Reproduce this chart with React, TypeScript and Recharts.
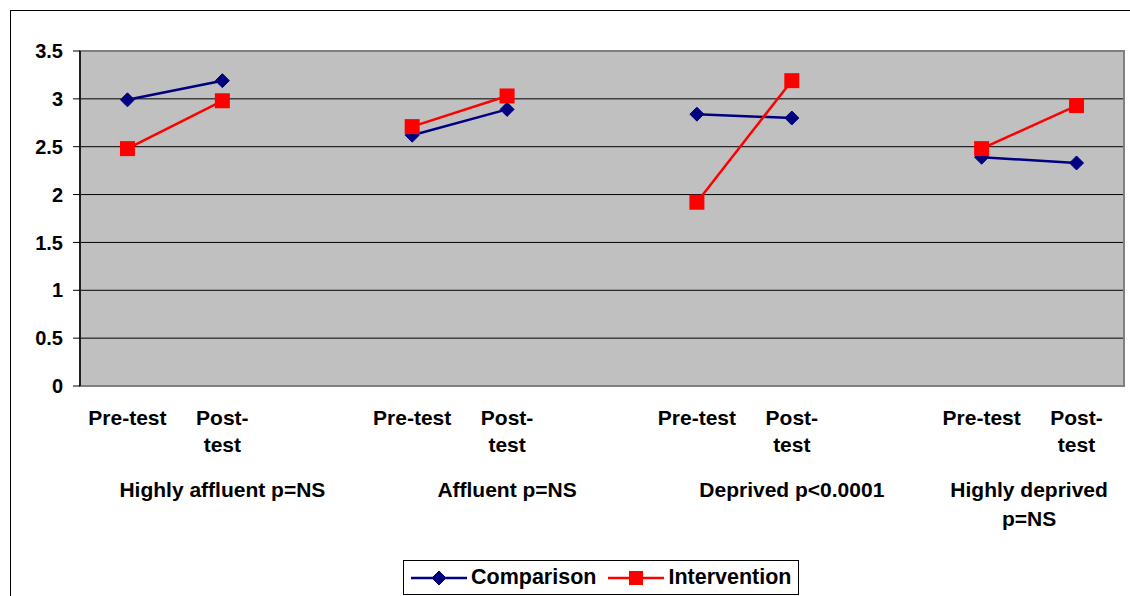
import React from 'react'
import { LineChart, Line, XAxis, YAxis, CartesianGrid, Legend, ReferenceArea } from 'recharts'

// categories: 4 groups of pre/post with a blank slot between groups
const categories = ['Pre-test', 'Post-\ntest', '', 'Pre-test', 'Post-\ntest', '', 'Pre-test', 'Post-\ntest', '', 'Pre-test', 'Post-\ntest']
const groupLabels = ['Highly affluent p=NS', 'Affluent p=NS', 'Deprived p<0.0001', 'Highly deprived\np=NS']
// category index where each group label is centred (x.5 = between two slots)
const groupCentres = [1, 4, 7, 9.5]

const comparison = [2.99, 3.19, null, 2.62, 2.89, null, 2.84, 2.8, null, 2.39, 2.33]
const intervention = [2.48, 2.98, null, 2.71, 3.03, null, 1.92, 3.19, null, 2.48, 2.93]
const yTicks = [0, 0.5, 1, 1.5, 2, 2.5, 3, 3.5]

const seriesNames = ['Comparison', 'Intervention']
const NAVY = '#000080'
const RED = '#FF0000'
const FONT = '"Liberation Sans", Arial, sans-serif'

const data = categories.map((c, i) => ({
  idx: i,
  comparison: comparison[i],
  intervention: intervention[i],
}))

const Diamond = ({ cx, cy, size = 7 }: any) => {
  if (cx == null || cy == null) return null
  return <path d={`M${cx},${cy - size} L${cx + size},${cy} L${cx},${cy + size} L${cx - size},${cy} Z`} fill={NAVY} stroke={NAVY} strokeWidth={1} />
}

const Square = ({ cx, cy, size = 7.5 }: any) => {
  if (cx == null || cy == null) return null
  return <rect x={cx - size} y={cy - size} width={size * 2} height={size * 2} fill={RED} />
}

const CategoryTick = (props: any) => {
  const { x, y, payload, width } = props
  const i = payload.index
  const band = (width || 1044) / categories.length
  const lines = categories[i] ? categories[i].split('\n') : []
  const g = groupCentres.findIndex((c) => Math.floor(c) === i)
  const groupLines = g >= 0 ? groupLabels[g].split('\n') : []
  const gx = g >= 0 ? x + (groupCentres[g] - i) * band : x
  return (
    <g>
      {lines.map((l, k) => (
        <text key={k} x={x} y={y + 39 + k * 27} textAnchor="middle" fontFamily={FONT} fontWeight="bold" fontSize={21} fill="#000">
          {l}
        </text>
      ))}
      {groupLines.map((l, k) => (
        <text key={'g' + k} x={gx} y={y + 111 + k * 29} textAnchor="middle" fontFamily={FONT} fontWeight="bold" fontSize={21} fill="#000">
          {l}
        </text>
      ))}
    </g>
  )
}

const LegendBox = () => (
  <div
    style={{
      boxSizing: 'border-box',
      width: 396,
      height: 35,
      border: '1px solid #000',
      background: '#fff',
      display: 'flex',
      alignItems: 'center',
      paddingLeft: 7,
      fontFamily: FONT,
      fontWeight: 'bold',
      fontSize: 21.5,
    }}
  >
    {seriesNames.map((name, k) => (
      <div key={name} style={{ display: 'flex', alignItems: 'center', marginRight: k === 0 ? 12 : 0 }}>
        <svg width={56} height={20} style={{ marginRight: 4 }}>
          <line x1={0} y1={10} x2={56} y2={10} stroke={k === 0 ? NAVY : RED} strokeWidth={2.5} />
          {k === 0 ? <Diamond cx={28} cy={10} size={7} /> : <Square cx={28} cy={10} size={7} />}
        </svg>
        <span>{name}</span>
      </div>
    ))}
  </div>
)

export default function App() {
  return (
    <div style={{ position: 'absolute', left: 0, top: 0, width: 1130, height: 596, overflow: 'hidden', background: '#fff' }}>
      <div style={{ position: 'absolute', left: 10, top: 10, width: 1200, height: 700, border: '1.5px solid #000' }} />
      <div style={{ position: 'absolute', left: 0, top: 0 }}>
        <LineChart width={1130} height={596} data={data} margin={{ top: 51, right: 6, left: 10, bottom: 1 }}>
          <CartesianGrid vertical={false} stroke="#000" strokeWidth={1} fill="#C0C0C0" fillOpacity={1} />
          <XAxis
            dataKey="idx"
            type="category"
            scale="band"
            height={174}
            axisLine={false}
            tickLine={false}
            tickSize={0}
            tickMargin={0}
            interval={0}
            tick={<CategoryTick />}
          />
          <YAxis
            domain={[0, 3.5]}
            ticks={yTicks}
            width={70}
            tickSize={7}
            tickMargin={10}
            axisLine={{ stroke: '#000', strokeWidth: 1.5 }}
            tickLine={{ stroke: '#000', strokeWidth: 1 }}
            tick={{ fill: '#000', fontSize: 20, fontWeight: 'bold', fontFamily: FONT }}
          />
          <ReferenceArea y1={0} y2={3.5} fill="none" stroke="#808080" strokeWidth={2} />
          <Legend verticalAlign="bottom" height={35} content={<LegendBox />} wrapperStyle={{ left: 403, width: 396 }} />
          <Line
            dataKey="comparison"
            name={seriesNames[0]}
            stroke={NAVY}
            strokeWidth={2.5}
            dot={(p: any) => <Diamond key={p.key ?? p.index} cx={p.cx} cy={p.value == null ? null : p.cy} />}
            activeDot={false}
            isAnimationActive={false}
          />
          <Line
            dataKey="intervention"
            name={seriesNames[1]}
            stroke={RED}
            strokeWidth={2.5}
            dot={(p: any) => <Square key={p.key ?? p.index} cx={p.cx} cy={p.value == null ? null : p.cy} />}
            activeDot={false}
            isAnimationActive={false}
          />
        </LineChart>
      </div>
    </div>
  )
}
